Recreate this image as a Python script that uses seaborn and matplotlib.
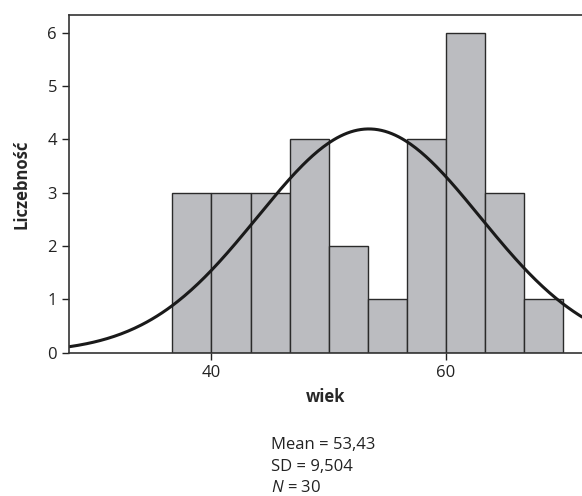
import numpy as np
import seaborn as sns
import matplotlib.pyplot as plt

# histogram (wiek, N = 30)
bin_edges = [36.667, 40.0, 43.333, 46.667, 50.0, 53.333, 56.667, 60.0, 63.333, 66.667, 70.0]
counts = [3, 3, 3, 4, 2, 1, 4, 6, 3, 1]
mean_age = 53.43
sd_age = 9.504
n_total = 30
x_ticks = [40, 60]
y_ticks = [0, 1, 2, 3, 4, 5, 6]

sns.set_style("white")
plt.rcParams['font.family'] = ['Open Sans', 'DejaVu Sans']
plt.rcParams['mathtext.fontset'] = 'custom'
plt.rcParams['mathtext.it'] = 'Open Sans:italic'
plt.rcParams['mathtext.rm'] = 'Open Sans'

centers = [(bin_edges[i] + bin_edges[i + 1]) / 2 for i in range(len(counts))]

fig = plt.figure(figsize=(5.82, 4.96), dpi=100)
ax = fig.add_axes([0.1194, 0.2889, 0.8806, 0.6809])

sns.histplot(x=centers, weights=counts, bins=bin_edges, ax=ax,
             color="#bbbcc0", alpha=1, edgecolor="#2a2a2a", linewidth=1.0)

# fitted normal curve
xs = np.linspace(27.88, 71.63, 300)
binw = bin_edges[1] - bin_edges[0]
ys = n_total * binw * np.exp(-0.5 * ((xs - mean_age) / sd_age) ** 2) / (sd_age * np.sqrt(2 * np.pi))
sns.lineplot(x=xs, y=ys, ax=ax, color="#1a1a1a", linewidth=2.2)

ax.set_xlim(27.88, 71.63)
ax.set_ylim(0, 6.335)
ax.set_xticks(x_ticks)
ax.set_yticks(y_ticks)
ax.tick_params(axis="both", direction="out", length=5, width=1, color="#222222",
               labelsize=12, labelcolor="#222222", left=True, bottom=True, pad=4)
for side in ["left", "top", "bottom"]:
    ax.spines[side].set_color("#333333")
    ax.spines[side].set_linewidth(1.2)
ax.spines["right"].set_visible(False)

ax.set_xlabel("wiek", fontsize=12, fontweight="bold", labelpad=5)
ax.set_ylabel("Liczebność", fontsize=12, fontweight="bold", labelpad=12)

fig.text(271 / 582, 1 - 445 / 496, "Mean = 53,43", fontsize=12, va="center", ha="left", color="#222222")
fig.text(271 / 582, 1 - 467 / 496, "SD = 9,504", fontsize=12, va="center", ha="left", color="#222222")
fig.text(271 / 582, 1 - 488 / 496, "$N$ = 30", fontsize=12, va="center", ha="left", color="#222222")

fig.savefig("out.png", dpi=100)
